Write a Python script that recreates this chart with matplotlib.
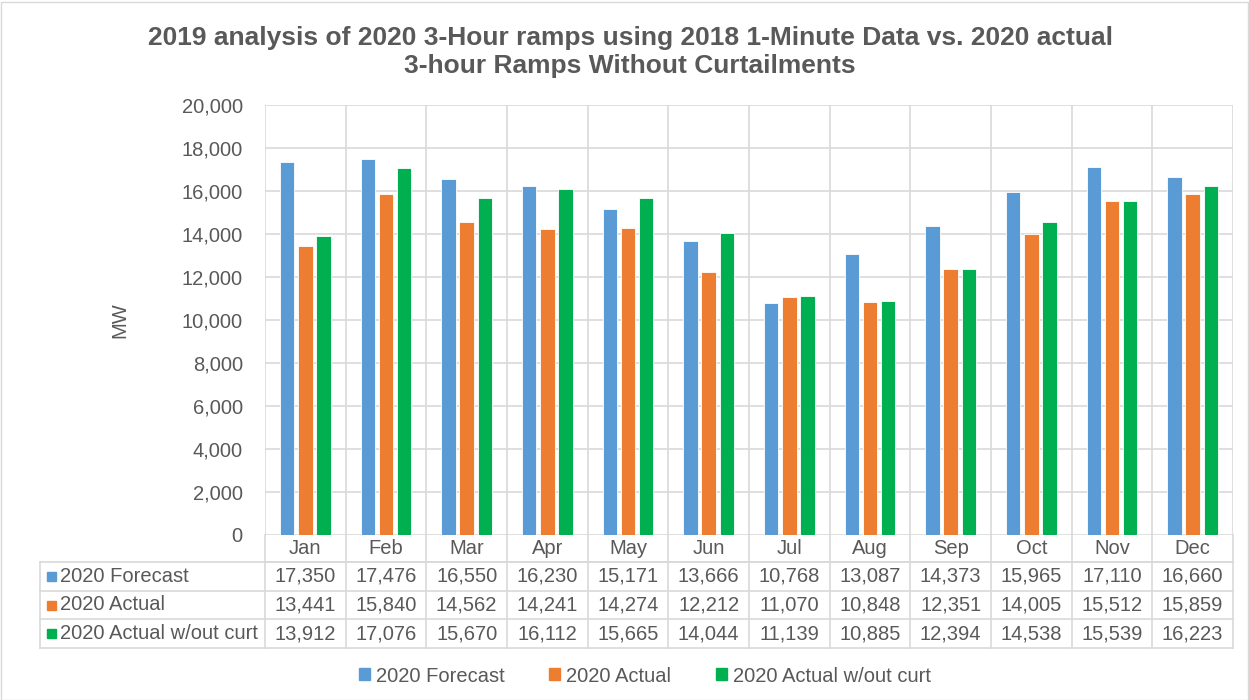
import matplotlib
matplotlib.use("Agg")
import matplotlib.pyplot as plt
from matplotlib.lines import Line2D
from matplotlib.patches import Rectangle
import numpy as np

plt.rcParams['font.family'] = ['Liberation Sans', 'DejaVu Sans']

months = ["Jan", "Feb", "Mar", "Apr", "May", "Jun", "Jul", "Aug", "Sep", "Oct", "Nov", "Dec"]
forecast = [17350, 17476, 16550, 16230, 15171, 13666, 10768, 13087, 14373, 15965, 17110, 16660]
actual = [13441, 15840, 14562, 14241, 14274, 12212, 11070, 10848, 12351, 14005, 15512, 15859]
actual_wo = [13912, 17076, 15670, 16112, 15665, 14044, 11139, 10885, 12394, 14538, 15539, 16223]
series_names = ["2020 Forecast", "2020 Actual", "2020 Actual w/out curt"]
colors = ["#5B9BD5", "#ED7D31", "#00B050"]
title = "2019 analysis of 2020 3-Hour ramps using 2018 1-Minute Data vs. 2020 actual\n3-hour Ramps Without Curtailments"

W, H = 1249, 700
fig = plt.figure(figsize=(W / 100, H / 100), dpi=100)
FS = 14.5
TC = "#595959"

def fx(x):
    return x / W

def fy(y):
    return 1 - y / H

L, R, T, B = 265, 1233, 105, 535
ax = fig.add_axes([fx(L), fy(B), fx(R) - fx(L), fy(T) - fy(B)])
n = len(months)
x = np.arange(n)
series = [forecast, actual, actual_wo]
bw = 0.18
step = 0.225
for i, (vals, c) in enumerate(zip(series, colors)):
    ax.bar(x + (i - 1) * step, vals, width=bw, color=c, edgecolor="white", linewidth=0.6, zorder=3)

ax.set_xlim(-0.5, n - 0.5)
ax.set_ylim(0, 20000)
ax.set_yticks(np.arange(0, 20001, 2000))
ax.set_yticklabels([f"{v:,}" for v in range(0, 20001, 2000)], fontsize=FS, color=TC)
ax.tick_params(axis="y", length=0, pad=16)
ax.set_xticks([])
ax.grid(axis="y", color="#D9D9D9", linewidth=1.2, zorder=0)
for k in range(n + 1):
    ax.axvline(k - 0.5, color="#D9D9D9", linewidth=1.2, zorder=0)
for s in ax.spines.values():
    s.set_visible(False)
fig.text(fx(120), fy(320), "MW", rotation=90, ha="center", va="center", fontsize=FS, color=TC)

fig.suptitle(title, x=fx(630), y=fy(26), va="top", fontsize=19, fontweight="bold", color=TC, linespacing=1.2)

# data table
grid_c = "#D9D9D9"
col_w = (R - L) / n
row_y = [535, 562, 591, 619, 648]
lines = []
lines.append(((L, R), (562, 562)))
for yy in row_y[1:]:
    lines.append(((40, R), (yy, yy)))
for k in range(n + 1):
    xx = L + k * col_w
    lines.append(((xx, xx), (535, 648)))
lines.append(((40, 40), (562, 648)))
for (xs, ys) in lines:
    fig.add_artist(Line2D([fx(xs[0]), fx(xs[1])], [fy(ys[0]), fy(ys[1])], transform=fig.transFigure, color=grid_c, linewidth=1.2))

for k, m in enumerate(months):
    fig.text(fx(L + (k + 0.5) * col_w), fy(549), m, ha="center", va="center", fontsize=FS, color=TC)

for r, (name, vals, c) in enumerate(zip(series_names, series, colors)):
    yc = (row_y[r + 1] + row_y[r + 2]) / 2
    fig.add_artist(Rectangle((fx(47), fy(yc + 4.5)), 9 / W, 9 / H, transform=fig.transFigure, color=c))
    fig.text(fx(60), fy(yc), name, ha="left", va="center", fontsize=FS, color=TC)
    for k, v in enumerate(vals):
        fig.text(fx(L + (k + 0.5) * col_w), fy(yc), f"{v:,}", ha="center", va="center", fontsize=FS, color=TC)

# legend
handles = [Rectangle((0, 0), 1, 1, color=c) for c in colors]
fig.legend(handles, series_names, loc="center", bbox_to_anchor=(fx(645), fy(676)), ncol=3, frameon=False,
           fontsize=FS, labelcolor=TC, handlelength=0.55, handleheight=0.55, handletextpad=0.3,
           columnspacing=2.2)

# chart border
fig.add_artist(Rectangle((0.5 / W, 0.5 / H), 1 - 2 / W, 1 - 2 / H, transform=fig.transFigure, fill=False,
                         edgecolor="#D9D9D9", linewidth=1))

fig.savefig("out.png", dpi=100)
